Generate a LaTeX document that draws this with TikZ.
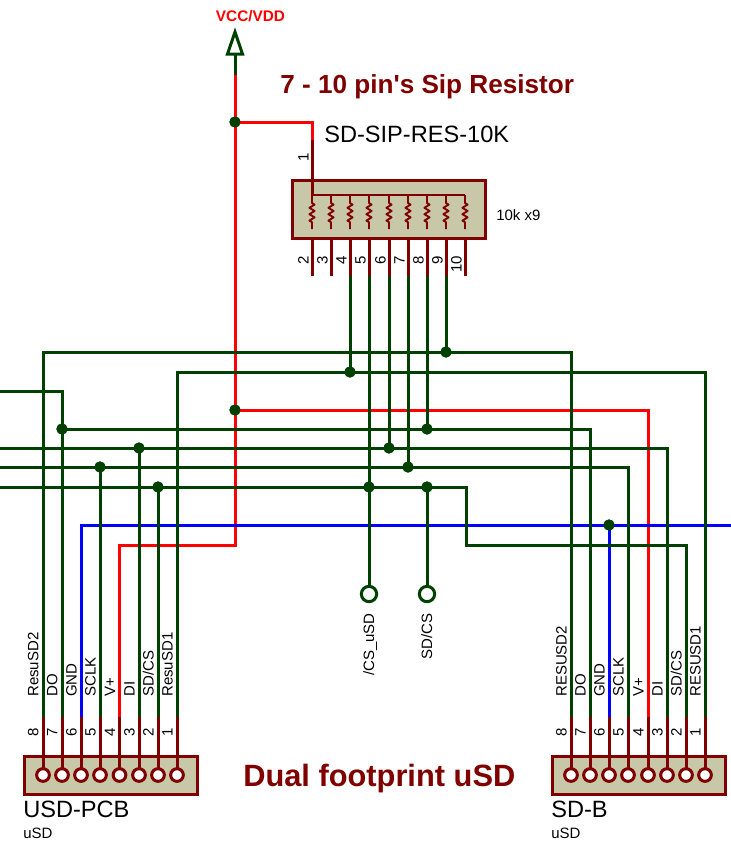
\documentclass[tikz,border=0pt]{standalone}
\usepackage{fontspec}
\setmainfont[Ligatures=TeXOff]{Liberation Sans}
\definecolor{wgreen}{HTML}{004000}
\definecolor{wred}{HTML}{FF0000}
\definecolor{wblue}{HTML}{0000FF}
\definecolor{pinred}{HTML}{800000}
\definecolor{bodyfill}{HTML}{C8C8A8}
\tikzset{
  x=0.75pt,y=-0.75pt,
  gw/.style={draw=wgreen,line width=2.25pt,line join=miter},
  rw/.style={draw=wred,line width=2.25pt,line join=miter},
  bw/.style={draw=wblue,line width=2.25pt,line join=miter},
  pinl/.style={draw=pinred,line width=2.25pt},
  thinl/.style={draw=pinred,line width=1.4pt,line join=round},
  bodybox/.style={draw=pinred,fill=bodyfill,line width=2.25pt,inner sep=0pt},
  hole/.style={circle,draw=pinred,fill=white,line width=2.25pt,minimum size=9.5pt,inner sep=0pt},
  dot/.style={circle,fill=wgreen,minimum size=8.5pt,inner sep=0pt},
  probe/.style={circle,draw=wgreen,fill=white,line width=2.25pt,minimum size=11.5pt,inner sep=0pt},
  small/.style={font=\fontsize{11.25pt}{13pt}\selectfont,text=black,inner sep=0pt},
  big/.style={font=\fontsize{17.7pt}{20pt}\selectfont,text=black,inner sep=0pt,anchor=base west},
  vlab/.style={small,rotate=90,anchor=base west},
  vnum/.style={small,rotate=90,anchor=base east},
  ttl/.style={text=pinred,inner sep=0pt,anchor=base west},
}
\begin{document}
\begin{tikzpicture}
\useasboundingbox (0,0) rectangle (731,843);
% pin top coordinates of the two connectors
\foreach \n/\a/\b in {8/43/571,7/62/590,6/81/609,5/100/628,4/119.5/648,3/139/667,2/158/686,1/177/705}{
  \coordinate (pcb\n) at (\a,717);
  \coordinate (sdb\n) at (\b,717);
}
% SIP pin ends
\foreach \n/\a in {2/312,3/331,4/350,5/369,6/389,7/408,8/427,9/446,10/465}{
  \coordinate (sip\n) at (\a,276);
  \coordinate (sit\n) at (\a,238);
}
\coordinate (sip1) at (312,140);
\coordinate (sit1) at (312,195);
\coordinate (vccstem) at (235,54);
\coordinate (vccred) at (235,75);
\coordinate (vcctip) at (235,32);
\coordinate (lfA) at (0,391);
\coordinate (lfB) at (0,448);
\coordinate (lfC) at (0,467);
\coordinate (lfD) at (0,487);
\coordinate (rfE) at (731,525);
\coordinate (sdbend) at (466,545);
\coordinate (sdtop) at (466,487);
% junctions
\node[dot] (jv1) at (235,122) {};
\node[dot] (jv2) at (235,410) {};
\node[dot] (j9) at (446,352) {};
\node[dot] (j4) at (350,372) {};
\node[dot] (jdo) at (62,429) {};
\node[dot] (j8) at (427,429) {};
\node[dot] (jdi) at (139,448) {};
\node[dot] (j6) at (389,448) {};
\node[dot] (jck) at (100,467) {};
\node[dot] (j7) at (408,467) {};
\node[dot] (jcs) at (158,487) {};
\node[dot] (j5) at (369,487) {};
\node[dot] (jcs2) at (427,487) {};
\node[dot] (jgn) at (609,525) {};
% probes
\node[probe] (pa) at (369,594) {};
\node[probe] (pb) at (427,594) {};
% wires
\draw[rw] (vccred) -- (jv1.center) -- (jv2.center) -- (235,545) -| (pcb4);
\draw[rw] (jv1.center) -| (sip1);
\draw[rw] (jv2.center) -| (sdb4);
\draw[bw] (pcb6) |- (rfE);
\draw[bw] (jgn.center) -- (sdb6);
\draw[gw] (vccstem) -- (vccred);
\draw[gw] (pcb8) |- (j9.center) -| (sdb8);
\draw[gw] (pcb1) |- (j4.center) -| (sdb1);
\draw[gw] (lfA) -| (pcb7);
\draw[gw] (jdo.center) -- (j8.center) -| (sdb7);
\draw[gw] (lfB) -- (jdi.center) -- (j6.center) -| (sdb3);
\draw[gw] (lfC) -- (jck.center) -- (j7.center) -| (sdb5);
\draw[gw] (lfD) -- (jcs.center) -- (j5.center) -- (jcs2.center) -- (sdtop) -- (sdbend) -| (sdb2);
\draw[gw] (jdi.center) -- (pcb3);
\draw[gw] (jck.center) -- (pcb5);
\draw[gw] (jcs.center) -- (pcb2);
\draw[gw] (sip4) -- (j4.center);
\draw[gw] (sip5) -- (j5.center) -- (pa);
\draw[gw] (sip6) -- (j6.center);
\draw[gw] (sip7) -- (j7.center);
\draw[gw] (sip8) -- (j8.center);
\draw[gw] (sip9) -- (j9.center);
\draw[gw] (jcs2.center) -- (pb);
% redraw dots on top of wires
\foreach \j in {jv1,jv2,j9,j4,jdo,j8,jdi,j6,jck,j7,jcs,j5,jcs2,jgn}{\fill[wgreen] (\j) circle (4.1pt);}
% VCC terminal
\draw[draw=wgreen,fill=white,line width=2.25pt,line join=miter] (vcctip) -- (227.5,54) -- (242.5,54) -- cycle;
\node[font=\fontsize{11.5pt}{13pt}\selectfont\bfseries,text=wred,inner sep=0pt,anchor=base] (vcclab) at (250.5,21.5) {VCC/VDD};
% SIP body
\node[bodybox,minimum width=144.75pt,minimum height=43.5pt] (sipbody) at (388.5,209) {};
\foreach \n in {1,...,10}{\draw[pinl] (sit\n) -- (sip\n);}
\draw[thinl] (sit2 |- sit1) -- (sit10 |- sit1);
\foreach \n in {2,...,10}{
  \draw[thinl] (sit\n) ++(0,-43) -- ++(0,8) -- ++(2.6,1.6) -- ++(-5.2,3.2) -- ++(5.2,3.2) -- ++(-5.2,3.2) -- ++(5.2,3.2) -- ++(-5.2,3.2) -- ++(2.6,1.6) -- ++(0,7);
}
\foreach \n/\a in {2/308.5,3/327.5,4/346.5,5/365.5,6/385.5,7/404.5,8/423.5,9/442.5,10/461.5}{
  \node[vnum] (nsip\n) at (\a,255.5) {\n};
}
\node[vnum] (nsip1) at (308.5,153) {1};
\node[big] (sipname) at (324,142) {SD-SIP-RES-10K};
\node[small,anchor=base west] (sipval) at (496,220) {10k x9};
\node[ttl,font=\fontsize{19.6pt}{22pt}\selectfont\bfseries] (title1) at (280,93) {7 - 10 pin's Sip Resistor};
% connectors
\node[bodybox,minimum width=129.75pt,minimum height=28.5pt] (pcbbody) at (110.5,775) {};
\node[bodybox,minimum width=129.75pt,minimum height=28.5pt] (sdbbody) at (638.5,775) {};
\foreach \n/\a/\b in {8/43/571,7/62/590,6/81/609,5/100/628,4/119.5/648,3/139/667,2/158/686,1/177/705}{
  \draw[pinl] (pcb\n) -- ++(0,58);
  \draw[pinl] (sdb\n) -- ++(0,58);
  \node[hole] (hp\n) at (\a,775) {};
  \node[hole] (hs\n) at (\b,775) {};
  \node[vlab] (npp\n) at (\a-4.5,737) {\n};
  \node[vlab] (nss\n) at (\b-4.5,737) {\n};
}
\foreach \n/\a/\t in {8/43/ResuSD2,7/62/DO,6/81/GND,5/100/SCLK,4/119.5/V+,3/139/DI,2/158/{SD/CS},1/177/ResuSD1}{
  \node[vlab] (lp\n) at (\a-4.5,697) {\t};
}
\foreach \n/\a/\t in {8/571/RESUSD2,7/590/DO,6/609/GND,5/628/SCLK,4/648/V+,3/667/DI,2/686/{SD/CS},1/705/RESUSD1}{
  \node[vlab] (ls\n) at (\a-4.5,697) {\t};
}
\node[big] (pcbname) at (23,817) {USD-PCB};
\node[small,anchor=base west] (pcbval) at (23,838) {uSD};
\node[big] (sdbname) at (551,817) {SD-B};
\node[small,anchor=base west] (sdbval) at (551,838) {uSD};
\node[ttl,font=\fontsize{23.1pt}{26pt}\selectfont\bfseries] (title2) at (243,786) {Dual footprint uSD};
% probe labels
\node[vnum] (lpa) at (374,613) {/CS\_uSD};
\node[vnum] (lpb) at (432,613) {SD/CS};
\end{tikzpicture}
\end{document}
